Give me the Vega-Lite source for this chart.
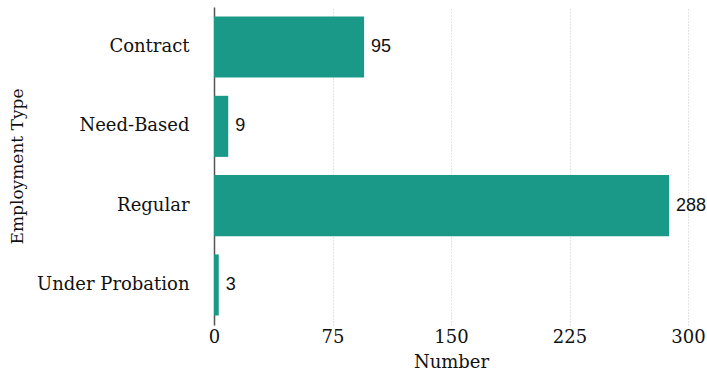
{
  "$schema": "https://vega.github.io/schema/vega-lite/v6.json",
  "autosize": {"type": "none"},
  "width": 474,
  "height": 318,
  "padding": {"left": 214, "top": 7, "right": 19, "bottom": 47},
  "background": "white",
  "data": {"values": [
    {"type": "Contract", "number": 95},
    {"type": "Need-Based", "number": 9},
    {"type": "Regular", "number": 288},
    {"type": "Under Probation", "number": 3}
  ]},
  "encoding": {
    "y": {"field": "type", "type": "nominal", "sort": null,
      "scale": {"paddingInner": 0.23, "paddingOuter": 0.12},
      "axis": {"title": "Employment Type", "ticks": false, "labelPadding": 25, "domainColor": "#555555", "domainWidth": 1.5,
        "labelFont": "DejaVu Serif", "labelFontSize": 18, "labelColor": "#111111",
        "titleFont": "DejaVu Serif", "titleFontSize": 17, "titleFontWeight": "normal", "titleColor": "#111111", "titlePadding": 10}},
    "x": {"field": "number", "type": "quantitative",
      "scale": {"domain": [0, 300], "nice": false},
      "axis": {"title": "Number", "values": [0, 75, 150, 225, 300], "ticks": false, "domain": false, "labelPadding": 3,
        "grid": true, "gridDash": [1, 2], "gridColor": "#c8c8c8", "gridWidth": 1,
        "labelFont": "DejaVu Serif", "labelFontSize": 18, "labelColor": "#111111", "labelFlush": false,
        "titleFont": "DejaVu Serif", "titleFontSize": 18, "titleFontWeight": "normal", "titleColor": "#111111", "titlePadding": 7}}
  },
  "layer": [
    {"mark": {"type": "bar", "color": "#1a9988"}},
    {"mark": {"type": "text", "align": "left", "dx": 7, "font": "Liberation Sans", "fontSize": 18, "color": "#111111"},
      "encoding": {"text": {"field": "number", "type": "quantitative"}}}
  ],
  "config": {"view": {"stroke": null}}
}
